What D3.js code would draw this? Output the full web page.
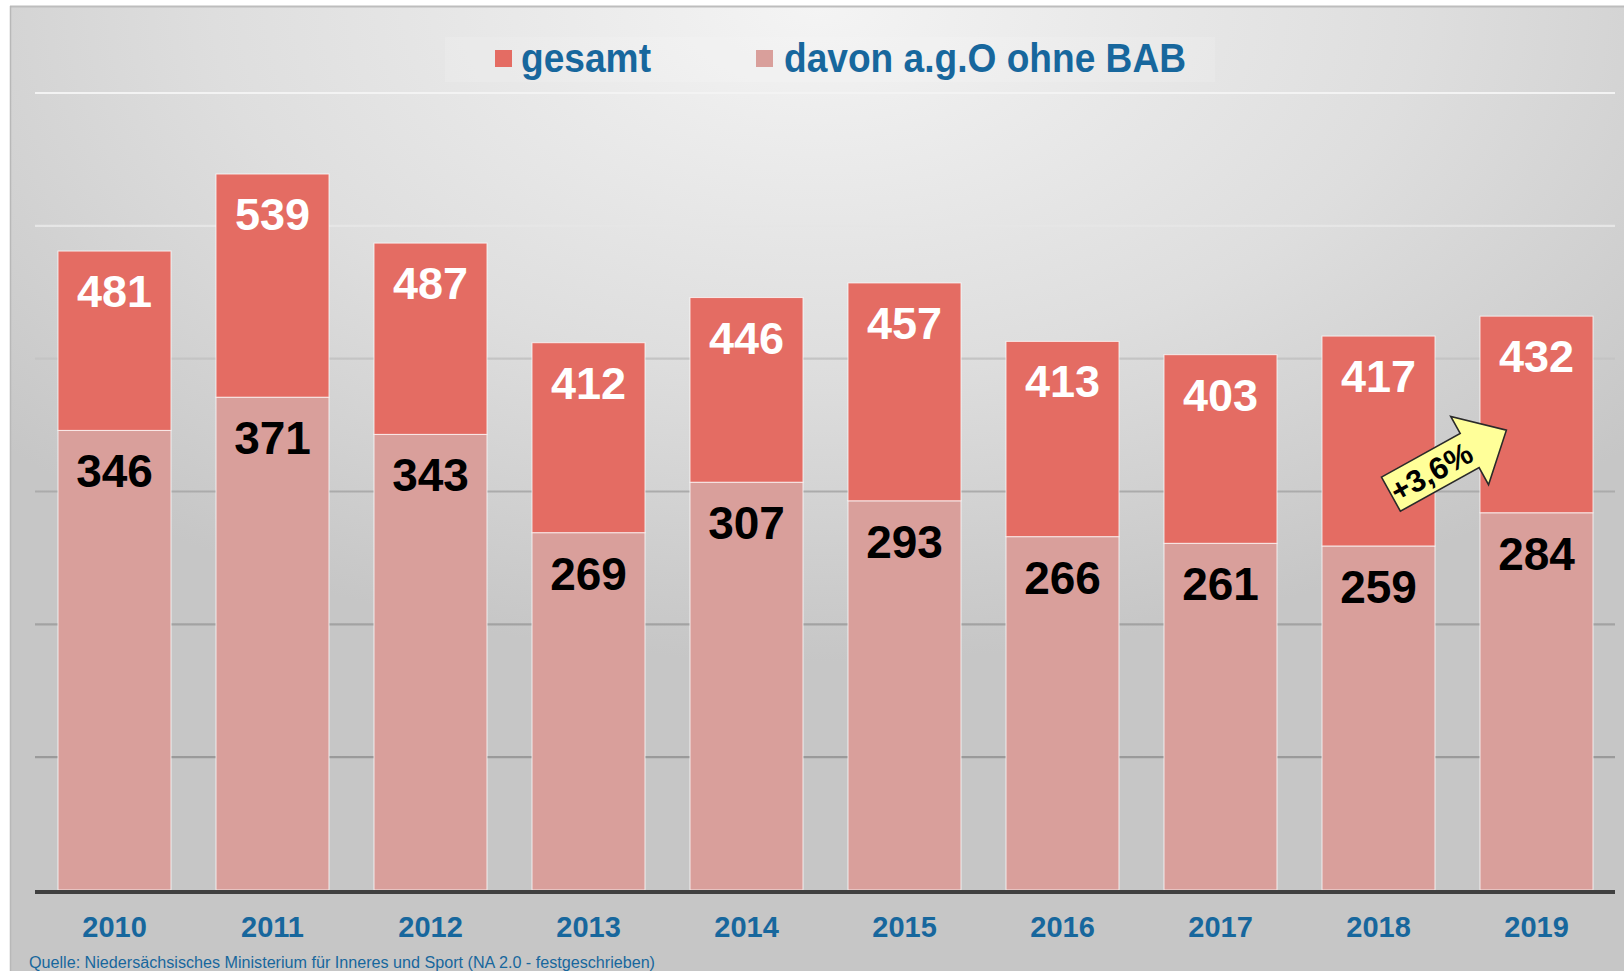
<!DOCTYPE html>
<html>
<head>
<meta charset="utf-8">
<script src="https://cdn.jsdelivr.net/npm/d3@7"></script>
<style>
  body { margin: 0; background: #fff; }
  svg { display: block; font-family: "Liberation Sans", Arial, Helvetica, sans-serif; }
</style>
</head>
<body>
<svg id="chart"></svg>
<script>
// Daten
var years = ["2010", "2011", "2012", "2013", "2014", "2015", "2016", "2017", "2018", "2019"];
var gesamt = [481, 539, 487, 412, 446, 457, 413, 403, 417, 432];
var davon = [346, 371, 343, 269, 307, 293, 266, 261, 259, 284];
var yTicks = [100, 200, 300, 400, 500, 600];
var legendLabels = ["gesamt", "davon a.g.O ohne BAB"];
var sourceText = "Quelle: Niedersächsisches Ministerium für Inneres und Sport (NA 2.0 - festgeschrieben)";

var colTop = "#e46c63";
var colBottom = "#d99f9b";
var blue = "#17679d";

function drawChart() {
    var width = 1624;
    var height = 971;

    var svg = d3.select("#chart")
        .attr("width", width)
        .attr("height", height);

    var defs = svg.append("defs");

    // Hintergrund-Verlauf
    var bg = defs.append("radialGradient")
        .attr("id", "bgGrad")
        .attr("cx", "50%").attr("cy", "0%").attr("r", "68%");
    bg.append("stop").attr("offset", "0").attr("stop-color", "#f4f4f4");
    bg.append("stop").attr("offset", "0.55").attr("stop-color", "#dedede");
    bg.append("stop").attr("offset", "1").attr("stop-color", "#c6c6c6");

    var y = d3.scaleLinear()
        .domain([0, 600])
        .range([890, 93]);

    var x = d3.scaleBand()
        .domain(years)
        .range([35.5, 1615.5])
        .paddingInner(0.285)
        .paddingOuter(0.1425);

    // Gitterlinien: oben hell, unten dunkler
    var gridGrad = defs.append("linearGradient")
        .attr("id", "gridGrad")
        .attr("gradientUnits", "userSpaceOnUse")
        .attr("x1", 0).attr("x2", 0)
        .attr("y1", y(600)).attr("y2", y(100));
    gridGrad.append("stop").attr("offset", "0").attr("stop-color", "#f3f3f3");
    gridGrad.append("stop").attr("offset", "0.2").attr("stop-color", "#e6e6e6");
    gridGrad.append("stop").attr("offset", "0.4").attr("stop-color", "#c4c4c4");
    gridGrad.append("stop").attr("offset", "0.6").attr("stop-color", "#ababab");
    gridGrad.append("stop").attr("offset", "1").attr("stop-color", "#9a9a9a");

    svg.append("rect")
        .attr("x", 10).attr("y", 6)
        .attr("width", width - 10).attr("height", height - 6)
        .attr("fill", "url(#bgGrad)");
    svg.append("line")
        .attr("x1", 10).attr("x2", width).attr("y1", 6.5).attr("y2", 6.5)
        .attr("stroke", "#bdbdbd").attr("stroke-width", 2);
    svg.append("line")
        .attr("x1", 10.5).attr("x2", 10.5).attr("y1", 6).attr("y2", height)
        .attr("stroke", "#b8b8b8").attr("stroke-width", 1.5);

    // Legende
    var legendItems = [
        { label: legendLabels[0], color: colTop, sx: 495, tx: 521, tl: 130 },
        { label: legendLabels[1], color: colBottom, sx: 756, tx: 784, tl: 402 }
    ];
    svg.append("rect")
        .attr("x", 445).attr("y", 37)
        .attr("width", 770).attr("height", 45)
        .attr("fill", "#ffffff").attr("opacity", 0.12);
    var lg = svg.selectAll(".legend")
        .data(legendItems)
        .enter().append("g")
        .attr("class", "legend");
    lg.append("rect")
        .attr("x", function(d) { return d.sx; })
        .attr("y", 50)
        .attr("width", 17).attr("height", 17)
        .attr("fill", function(d) { return d.color; });
    lg.append("text")
        .attr("x", function(d) { return d.tx; })
        .attr("y", 72)
        .attr("textLength", function(d) { return d.tl; })
        .attr("lengthAdjust", "spacingAndGlyphs")
        .style("font-size", "40px")
        .style("font-weight", "bold")
        .style("fill", blue)
        .text(function(d) { return d.label; });

    // Gitterlinien
    svg.append("g")
        .selectAll("line")
        .data(yTicks)
        .enter().append("line")
        .attr("x1", 35).attr("x2", 1615)
        .attr("y1", function(d) { return y(d); })
        .attr("y2", function(d) { return y(d); })
        .attr("stroke", "url(#gridGrad)")
        .attr("stroke-width", 2.2);

    // Balken
    var rows = years.map(function(yr, i) {
        return { year: yr, total: gesamt[i], part: davon[i] };
    });

    var bars = svg.append("g");
    bars.selectAll(".bar-bottom")
        .data(rows)
        .enter().append("rect")
        .attr("class", "bar-bottom")
        .attr("x", function(d) { return x(d.year); })
        .attr("width", x.bandwidth())
        .attr("y", function(d) { return y(d.part); })
        .attr("height", function(d) { return y(0) - y(d.part); })
        .attr("fill", colBottom)
        .attr("stroke", "#ffffff").attr("stroke-opacity", 0.75).attr("stroke-width", 1);

    bars.selectAll(".bar-top")
        .data(rows)
        .enter().append("rect")
        .attr("class", "bar-top")
        .attr("x", function(d) { return x(d.year); })
        .attr("width", x.bandwidth())
        .attr("y", function(d) { return y(d.total); })
        .attr("height", function(d) { return y(d.part) - y(d.total); })
        .attr("fill", colTop)
        .attr("stroke", "#ffffff").attr("stroke-opacity", 0.75).attr("stroke-width", 1);

    // Werte
    svg.selectAll(".lbl-top")
        .data(rows)
        .enter().append("text")
        .attr("class", "lbl-top")
        .attr("x", function(d) { return x(d.year) + x.bandwidth() / 2; })
        .attr("y", function(d) { return y(d.total) + 56; })
        .attr("text-anchor", "middle")
        .style("font-size", "45px")
        .style("font-weight", "bold")
        .style("fill", "#ffffff")
        .text(function(d) { return d.total; });

    svg.selectAll(".lbl-bottom")
        .data(rows)
        .enter().append("text")
        .attr("class", "lbl-bottom")
        .attr("x", function(d) { return x(d.year) + x.bandwidth() / 2; })
        .attr("y", function(d) { return y(d.part) + 57; })
        .attr("text-anchor", "middle")
        .style("font-size", "46px")
        .style("font-weight", "bold")
        .style("fill", "#000000")
        .text(function(d) { return d.part; });

    // x-Achse
    svg.append("line")
        .attr("x1", 35).attr("x2", 1615)
        .attr("y1", y(0) + 2).attr("y2", y(0) + 2)
        .attr("stroke", "#404040")
        .attr("stroke-width", 4);

    var xAxis = svg.append("g")
        .attr("transform", "translate(0," + (y(0) + 2) + ")")
        .call(d3.axisBottom(x).tickSize(0).tickPadding(24));
    xAxis.select(".domain").remove();
    xAxis.selectAll("text")
        .attr("dy", "0.71em")
        .style("font-family", "\"Liberation Sans\", Arial, sans-serif")
        .style("font-size", "29px")
        .style("font-weight", "bold")
        .style("fill", blue);

    // Pfeil mit Veränderung 2018 -> 2019
    var prev = gesamt[years.indexOf("2018")];
    var curr = gesamt[years.indexOf("2019")];
    var change = (curr - prev) / prev * 100;
    var changeText = (change >= 0 ? "+" : "") + d3.format(".1f")(change).replace(".", ",") + "%";

    var ax = x("2018") + x.bandwidth() * 0.61;
    var ay = y(298);
    var arrowPts = [[0, -19.5], [90, -19.5], [90, -39], [132, 0], [90, 39], [90, 19.5], [0, 19.5]];
    var arrow = svg.append("g")
        .attr("transform", "translate(" + ax + "," + ay + ") rotate(-29)");
    arrow.append("path")
        .attr("d", d3.line()(arrowPts) + "Z")
        .attr("fill", "#ffff99")
        .attr("stroke", "#2a2a2a")
        .attr("stroke-width", 1.6)
        .attr("stroke-linejoin", "miter");
    arrow.append("text")
        .attr("x", 46)
        .attr("y", 11)
        .attr("text-anchor", "middle")
        .style("font-size", "31px")
        .style("font-weight", "bold")
        .style("fill", "#000")
        .text(changeText);

    // Quelle
    svg.append("text")
        .attr("x", 29)
        .attr("y", 968)
        .attr("textLength", 626)
        .attr("lengthAdjust", "spacingAndGlyphs")
        .style("font-size", "16px")
        .style("fill", blue)
        .text(sourceText);
}

drawChart();
</script>
</body>
</html>
